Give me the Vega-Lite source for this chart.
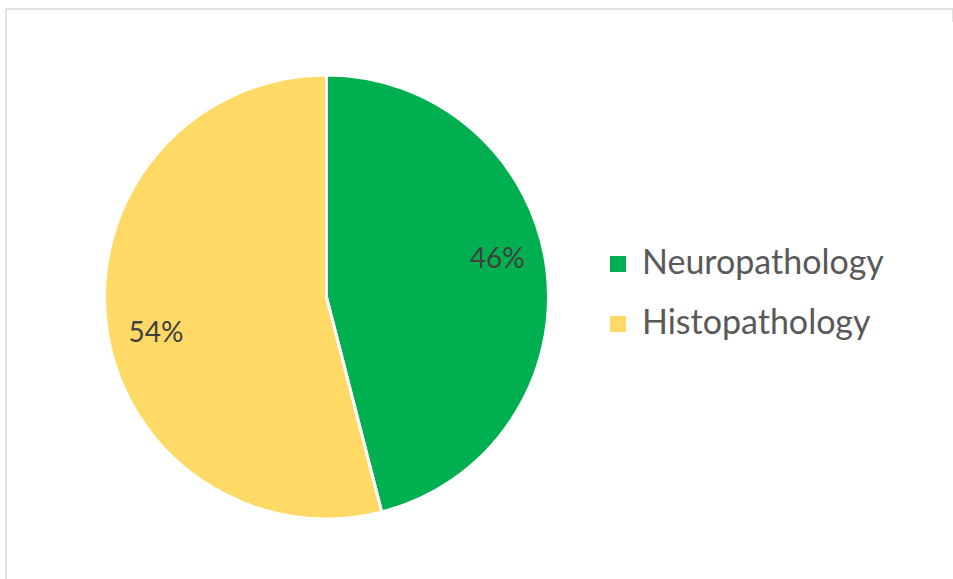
{
  "$schema": "https://vega.github.io/schema/vega-lite/v6.json",
  "width": 947,
  "height": 570,
  "autosize": {"type": "none"},
  "padding": {"left": 6, "top": 9, "right": 0, "bottom": 0},
  "background": "white",
  "view": {"stroke": "#d9d9d9", "strokeWidth": 1.5, "strokeDash": [960, 1504, 570, 0]},
  "data": {"values": [
    {"category": "Neuropathology", "share": 0.46},
    {"category": "Histopathology", "share": 0.54}
  ]},
  "encoding": {
    "theta": {"field": "share", "type": "quantitative", "stack": true},
    "order": {"field": "share", "sort": "ascending"}
  },
  "layer": [
    {
      "mark": {"type": "arc", "x": 320.5, "y": 288, "outerRadius": 222, "stroke": "white", "strokeWidth": 3},
      "encoding": {
        "color": {
          "field": "category", "type": "nominal",
          "sort": ["Neuropathology", "Histopathology"],
          "scale": {"domain": ["Neuropathology", "Histopathology"], "range": ["#00B050", "#FFD966"]},
          "legend": {
            "orient": "none", "legendX": 595, "legendY": 238, "title": null,
            "symbolType": "square", "symbolSize": 256, "symbolStrokeWidth": 0,
            "labelFont": "Lato", "labelFontSize": 34, "labelColor": "#595959",
            "labelOffset": 7, "rowPadding": 26, "labelLimit": 500
          }
        }
      }
    },
    {
      "mark": {"type": "text", "x": 320.5, "y": 288, "radius": 172, "font": "Lato", "fontSize": 28, "fill": "#404040",
        "dy": {"expr": "datum.category == 'Neuropathology' ? -15 : 15"}},
      "encoding": {
        "text": {"field": "share", "type": "quantitative", "format": ".0%"}
      }
    }
  ]
}
